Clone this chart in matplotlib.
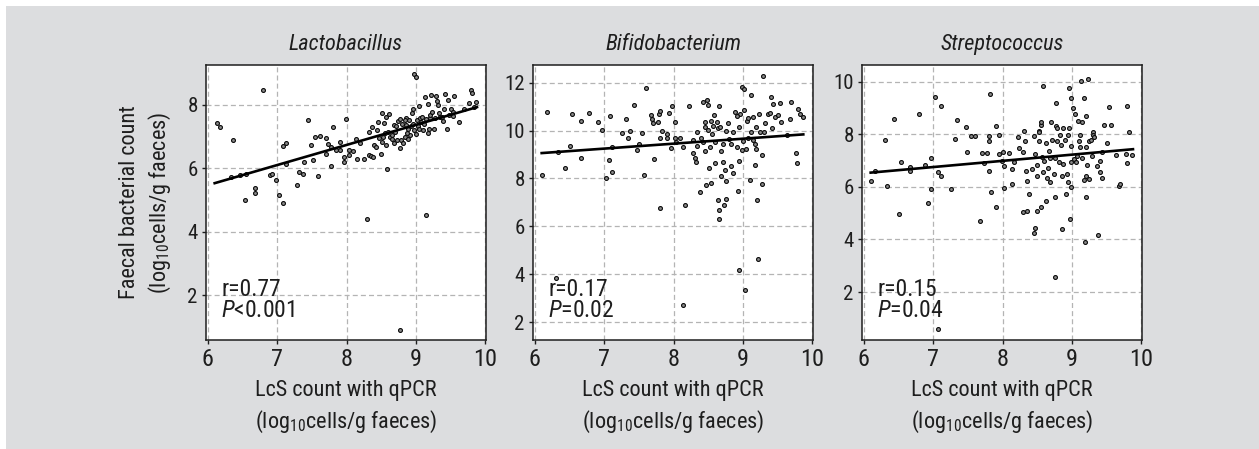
import matplotlib
matplotlib.use("Agg")
import matplotlib.pyplot as plt
from matplotlib import font_manager as fm
from matplotlib.patches import Rectangle

# narrow sans like the original if one is installed
installed = {f.name for f in fm.fontManager.ttflist}
base_font = 'Liberation Sans'
for cand in ['Liberation Sans Narrow', 'Arial Narrow', 'Roboto Condensed']:
    if cand in installed:
        base_font = cand
        break
narrow = base_font != 'Liberation Sans'
fs = 1.0 if narrow else 0.9

plt.rcParams['font.family'] = [base_font, 'Liberation Sans', 'DejaVu Sans']
plt.rcParams['mathtext.fontset'] = 'custom'
plt.rcParams['mathtext.rm'] = base_font
plt.rcParams['mathtext.it'] = base_font + ':italic'

# ---- data ----
# Lactobacillus
lacto_x = [6.13, 6.18, 6.36, 6.33, 6.46, 6.55, 6.53, 6.68, 6.68, 6.80,
           6.90, 6.93, 6.99, 7.03, 7.08, 7.09, 7.13, 7.13, 7.28, 7.32,
           7.37, 7.39, 7.44, 7.49, 7.51, 7.55, 7.62, 7.59, 7.70, 7.73,
           7.71, 7.78, 7.81, 7.78, 7.85, 7.91, 7.91, 7.96, 7.99, 7.97,
           8.03, 8.04, 8.10, 8.14, 8.15, 8.20, 8.25, 8.30, 8.32, 8.35,
           8.38, 8.32, 8.36, 8.40, 8.42, 8.45, 8.51, 8.47, 8.51, 8.54,
           8.57, 8.59, 8.61, 8.49, 8.57, 8.63, 8.65, 8.68, 8.70, 8.77,
           8.78, 8.77, 8.82, 8.84, 8.85, 8.88, 8.92, 8.94, 8.96, 8.97,
           9.00, 9.00, 9.02, 9.04, 9.06, 9.10, 9.13, 9.14, 9.17, 9.18,
           9.21, 9.22, 9.26, 9.29, 9.31, 9.32, 9.35, 9.39, 9.42, 9.46,
           9.45, 9.47, 9.51, 9.55, 9.62, 9.69, 9.77, 9.79, 9.81, 9.86,
           9.84,
           8.44, 8.53, 8.55, 8.60, 8.65, 8.72, 8.74, 8.77, 8.80, 8.84,
           8.86, 8.90, 8.93, 8.96, 8.97, 9.03, 9.07, 9.09, 9.12, 9.15,
           9.20, 9.23, 9.27, 9.33, 9.37, 9.54, 9.53, 8.68, 8.73, 8.87,
           8.89, 9.04, 9.19, 9.40]
lacto_y = [7.44, 7.29, 6.89, 5.73, 5.79, 5.83, 5.00, 5.37, 5.23, 8.48,
           5.78, 5.82, 5.62, 5.16, 4.92, 6.70, 6.81, 6.15, 5.47, 5.87,
           5.82, 6.20, 7.52, 6.72, 6.26, 6.98, 7.02, 5.77, 6.96, 6.77,
           6.45, 6.68, 7.30, 6.06, 6.57, 6.84, 6.57, 6.21, 7.55, 6.37,
           6.58, 6.43, 6.55, 6.92, 6.28, 6.79, 6.30, 4.39, 6.42, 6.38,
           6.35, 7.15, 7.31, 6.74, 6.68, 7.47, 7.73, 6.96, 6.84, 7.42,
           7.61, 5.98, 7.71, 6.46, 6.73, 7.00, 6.93, 7.36, 7.16, 6.64,
           6.90, 0.91, 6.79, 6.98, 7.59, 7.23, 7.05, 7.74, 7.87, 8.98,
           8.89, 7.09, 7.52, 7.97, 7.58, 7.21, 8.24, 4.51, 7.11, 8.03,
           7.60, 8.31, 7.24, 8.28, 8.13, 8.00, 7.63, 7.49, 8.36, 8.14,
           7.23, 7.68, 7.87, 8.29, 7.47, 7.86, 8.07, 8.47, 8.39, 8.08,
           7.95,
           7.21, 6.98, 7.10, 7.16, 7.04, 7.32, 7.49, 7.56, 7.40, 7.51,
           7.36, 7.53, 7.32, 7.41, 7.21, 7.35, 7.47, 7.63, 7.39, 7.55,
           7.68, 7.79, 7.58, 7.74, 7.61, 7.65, 7.79, 6.79, 6.90, 7.11,
           6.94, 7.23, 7.25, 7.87]
lacto_fit_x = [6.10, 9.88]
lacto_fit_y = [5.53, 7.93]

# Bifidobacterium
bifido_x = [6.11, 6.17, 6.34, 6.44, 6.54, 6.51, 6.66, 6.66, 6.78, 6.91,
            6.97, 7.02, 7.07, 7.08, 7.11, 7.12, 7.26, 7.31, 7.35, 7.38,
            7.43, 7.47, 7.50, 7.54, 7.58, 7.60, 7.68, 7.69, 7.70, 7.72,
            7.77, 7.79, 7.81, 7.80, 7.80, 7.84, 7.90, 7.90, 7.94, 7.96,
            7.98, 8.02, 8.02, 8.04, 8.09, 8.13, 8.14, 8.16, 8.23, 8.28,
            8.28, 8.31, 8.32, 8.34, 8.34, 8.38, 8.40, 8.42, 8.45, 8.46,
            8.47, 8.48, 8.49, 8.50, 8.52, 8.51, 8.54, 8.54, 8.56, 8.57,
            8.58, 8.60, 8.60, 8.62, 8.64, 8.65, 8.64, 8.65, 8.66, 8.67,
            8.69, 8.69, 8.72, 8.73, 8.74, 8.75, 8.76, 8.76, 8.79, 8.80,
            8.83, 8.85, 8.86, 8.88, 8.91, 8.93, 8.94, 8.94, 8.95, 8.96,
            8.98, 8.99, 9.01, 9.02, 9.03, 9.05, 9.06, 9.07, 9.10, 9.11,
            9.12, 9.14, 9.15, 9.17, 9.19, 9.19, 9.21, 9.22, 9.23, 9.24,
            9.27, 9.28, 9.29, 9.30, 9.32, 9.36, 9.39, 9.41, 9.42, 9.44,
            9.46, 9.50, 9.53, 9.55, 9.63, 9.68, 9.70, 9.76, 9.78, 9.79,
            9.82, 9.86, 8.91, 9.00, 9.07, 9.17, 8.83, 8.72, 8.42, 8.46,
            6.31]
bifido_y = [8.15, 10.78, 9.12, 8.43, 10.68, 9.37, 10.39, 8.87, 10.75, 10.37,
            10.01, 8.01, 8.75, 10.61, 9.30, 8.26, 9.88, 10.50, 9.69, 10.00,
            11.07, 9.19, 9.44, 9.89, 8.16, 11.76, 10.66, 10.48, 10.32, 8.83,
            10.37, 10.68, 10.80, 9.69, 6.76, 10.00, 9.85, 9.71, 10.74, 9.26,
            11.02, 9.71, 10.34, 9.51, 9.71, 9.31, 2.72, 6.89, 11.02, 9.60,
            9.05, 8.84, 8.68, 9.96, 9.37, 7.43, 9.71, 11.21, 10.37, 10.16,
            7.71, 11.27, 11.06, 10.03, 9.33, 8.43, 10.41, 7.83, 9.85, 10.20,
            10.64, 9.51, 8.65, 10.37, 10.10, 11.03, 7.11, 6.67, 6.29, 10.13,
            9.16, 8.12, 9.44, 6.88, 8.37, 7.14, 7.91, 10.00, 10.30, 9.65,
            9.44, 8.22, 9.93, 10.78, 9.30, 7.47, 4.17, 10.13, 8.72, 10.68,
            9.19, 11.82, 10.86, 11.75, 3.34, 9.23, 10.41, 10.52, 7.94, 9.96,
            11.47, 10.55, 9.60, 8.58, 10.13, 9.23, 7.11, 4.65, 10.68, 9.96,
            8.98, 7.76, 12.30, 9.96, 10.31, 10.71, 10.75, 11.40, 10.10, 11.10,
            10.57, 10.66, 11.17, 10.34, 9.83, 10.50, 11.18, 9.06, 8.65, 10.92,
            10.68, 10.55, 10.61, 9.57, 9.71, 9.44, 8.54, 8.68, 9.53, 9.16,
            3.83]
bifido_fit_x = [6.10, 9.87]
bifido_fit_y = [9.06, 9.84]

# Streptococcus
strep_x = [6.11, 6.16, 6.31, 6.34, 6.44, 6.51, 6.54, 6.66, 6.66, 6.79,
           6.89, 6.92, 6.97, 6.97, 7.03, 7.07, 7.07, 7.11, 7.12, 7.26,
           7.31, 7.35, 7.47, 7.49, 7.54, 7.60, 7.68, 7.71, 7.73, 7.77,
           7.80, 7.80, 7.80, 7.82, 7.84, 7.90, 7.90, 7.95, 7.95, 7.99,
           8.01, 8.02, 8.02, 8.09, 8.14, 8.14, 8.16, 8.22, 8.24, 8.29,
           8.29, 8.31, 8.32, 8.34, 8.35, 8.35, 8.38, 8.43, 8.45, 8.46,
           8.47, 8.47, 8.49, 8.50, 8.50, 8.52, 8.53, 8.53, 8.55, 8.55,
           8.56, 8.57, 8.58, 8.59, 8.60, 8.62, 8.63, 8.64, 8.66, 8.67,
           8.68, 8.69, 8.70, 8.72, 8.74, 8.75, 8.76, 8.76, 8.77, 8.77,
           8.78, 8.79, 8.82, 8.83, 8.84, 8.85, 8.86, 8.87, 8.87, 8.90,
           8.91, 8.93, 8.94, 8.95, 8.96, 8.96, 8.97, 8.98, 8.98, 8.99,
           8.99, 9.01, 9.03, 9.04, 9.06, 9.08, 9.09, 9.10, 9.11, 9.12,
           9.13, 9.14, 9.15, 9.17, 9.18, 9.19, 9.20, 9.20, 9.21, 9.21,
           9.22, 9.23, 9.24, 9.25, 9.27, 9.29, 9.30, 9.31, 9.32, 9.36,
           9.38, 9.40, 9.41, 9.43, 9.44, 9.46, 9.51, 9.54, 9.56, 9.63,
           9.68, 9.70, 9.78, 9.79, 9.80, 9.82, 9.86]
strep_y = [6.22, 6.59, 7.78, 6.03, 8.59, 4.97, 6.93, 6.75, 6.60, 8.75,
           6.83, 5.39, 7.10, 5.91, 9.40, 0.58, 6.57, 6.41, 9.06, 5.91,
           7.81, 8.53, 8.27, 7.34, 7.94, 7.94, 4.69, 7.30, 6.90, 7.30,
           7.93, 7.76, 6.60, 9.52, 5.82, 8.30, 5.24, 7.97, 7.25, 6.98,
           7.32, 6.79, 5.96, 7.30, 6.67, 6.12, 6.93, 7.88, 7.46, 7.33,
           5.04, 8.14, 7.76, 6.60, 6.21, 5.10, 5.72, 6.67, 4.26, 7.95,
           7.25, 4.42, 6.83, 6.41, 5.10, 8.11, 7.76, 8.07, 8.34, 5.24,
           8.46, 7.15, 6.55, 9.85, 7.00, 5.45, 7.66, 6.32, 6.71, 7.38,
           6.20, 7.09, 8.46, 7.78, 6.50, 7.10, 5.62, 2.57, 8.33, 9.17,
           8.24, 7.76, 6.95, 7.97, 7.59, 6.42, 4.40, 8.24, 6.88, 7.78,
           5.74, 6.50, 7.97, 6.18, 8.24, 9.75, 4.76, 5.99, 9.36, 7.54,
           6.93, 8.99, 7.05, 8.77, 6.96, 7.19, 8.49, 7.76, 7.51, 7.98,
           10.03, 8.45, 7.08, 9.37, 6.27, 3.89, 8.70, 5.62, 7.51, 6.42,
           6.83, 10.09, 6.31, 7.73, 7.78, 7.19, 8.09, 7.98, 7.88, 6.78,
           4.18, 7.00, 6.55, 6.33, 7.32, 8.34, 7.67, 9.04, 8.34, 7.20,
           6.02, 6.12, 7.25, 6.90, 9.09, 8.07, 7.20]
strep_fit_x = [6.10, 9.88]
strep_fit_y = [6.54, 7.43]

titles = ['Lactobacillus', 'Bifidobacterium', 'Streptococcus']
r_text = ['r=0.77', 'r=0.17', 'r=0.15']
p_text = ['$P$<0.001', '$P$=0.02', '$P$=0.04']
y_ticks = [[2, 4, 6, 8], [2, 4, 6, 8, 10, 12], [2, 4, 6, 8, 10]]
y_lims = [(0.58, 9.26), (1.25, 12.74), (0.18, 10.63)]
x_ticks = [6, 7, 8, 9, 10]

panels = [(lacto_x, lacto_y, lacto_fit_x, lacto_fit_y),
          (bifido_x, bifido_y, bifido_fit_x, bifido_fit_y),
          (strep_x, strep_y, strep_fit_x, strep_fit_y)]

W, H = 1259, 449
fig = plt.figure(figsize=(W / 100, H / 100), dpi=100)
fig.patch.set_facecolor('white')
fig.patches.append(Rectangle((6 / W, 0), 1, (H - 6) / H, transform=fig.transFigure,
                             facecolor='#dcdddf', edgecolor='none', zorder=-10))

lefts = [206, 533, 862]
ink = '#1e1e1e'

for i, (xs, ys, fx, fy) in enumerate(panels):
    ax = fig.add_axes([lefts[i] / W, (H - 340) / H, 280 / W, 275 / H])
    ax.set_facecolor('white')
    ax.plot(xs, ys, 'o', ms=2.8, mfc='#8a8a8a', mec='#0a0a0a', mew=0.8, zorder=3)
    ax.plot(fx, fy, color='black', lw=1.9, zorder=4)

    ax.set_xlim(5.975, 10.01)
    ax.set_ylim(*y_lims[i])
    ax.set_xticks(x_ticks)
    ax.set_yticks(y_ticks[i])
    ax.grid(True, color='#b4b4b4', lw=0.9, linestyle=(0, (4, 2.5)))
    ax.set_axisbelow(True)
    for s in ax.spines.values():
        s.set_color(ink)
        s.set_linewidth(1.1)
    ax.tick_params(axis='x', direction='out', length=3, width=1, colors=ink,
                   labelsize=17.5 * fs, pad=3)
    ax.tick_params(axis='y', direction='out', length=3, width=1, colors=ink,
                   labelsize=15 * fs, pad=3)

    ax.set_title(titles[i], fontsize=16 * fs, style='italic', color=ink, pad=11)
    # r and P as one two-line block, tightly spaced like the original
    ax.text(0.055, 0.066, r_text[i] + '\n' + p_text[i], transform=ax.transAxes,
            fontsize=17 * fs, color=ink, va='bottom', ha='left', linespacing=0.88)

    ax.set_xlabel('LcS count with qPCR\n(log$_{10}$cells/g faeces)',
                  fontsize=16 * fs, color=ink, labelpad=6, linespacing=1.4)
    if i == 0:
        ax.set_ylabel('Faecal bacterial count\n(log$_{10}$cells/g faeces)',
                      fontsize=16 * fs, color=ink, labelpad=10, linespacing=1.4)

fig.savefig('out.png', dpi=100)
